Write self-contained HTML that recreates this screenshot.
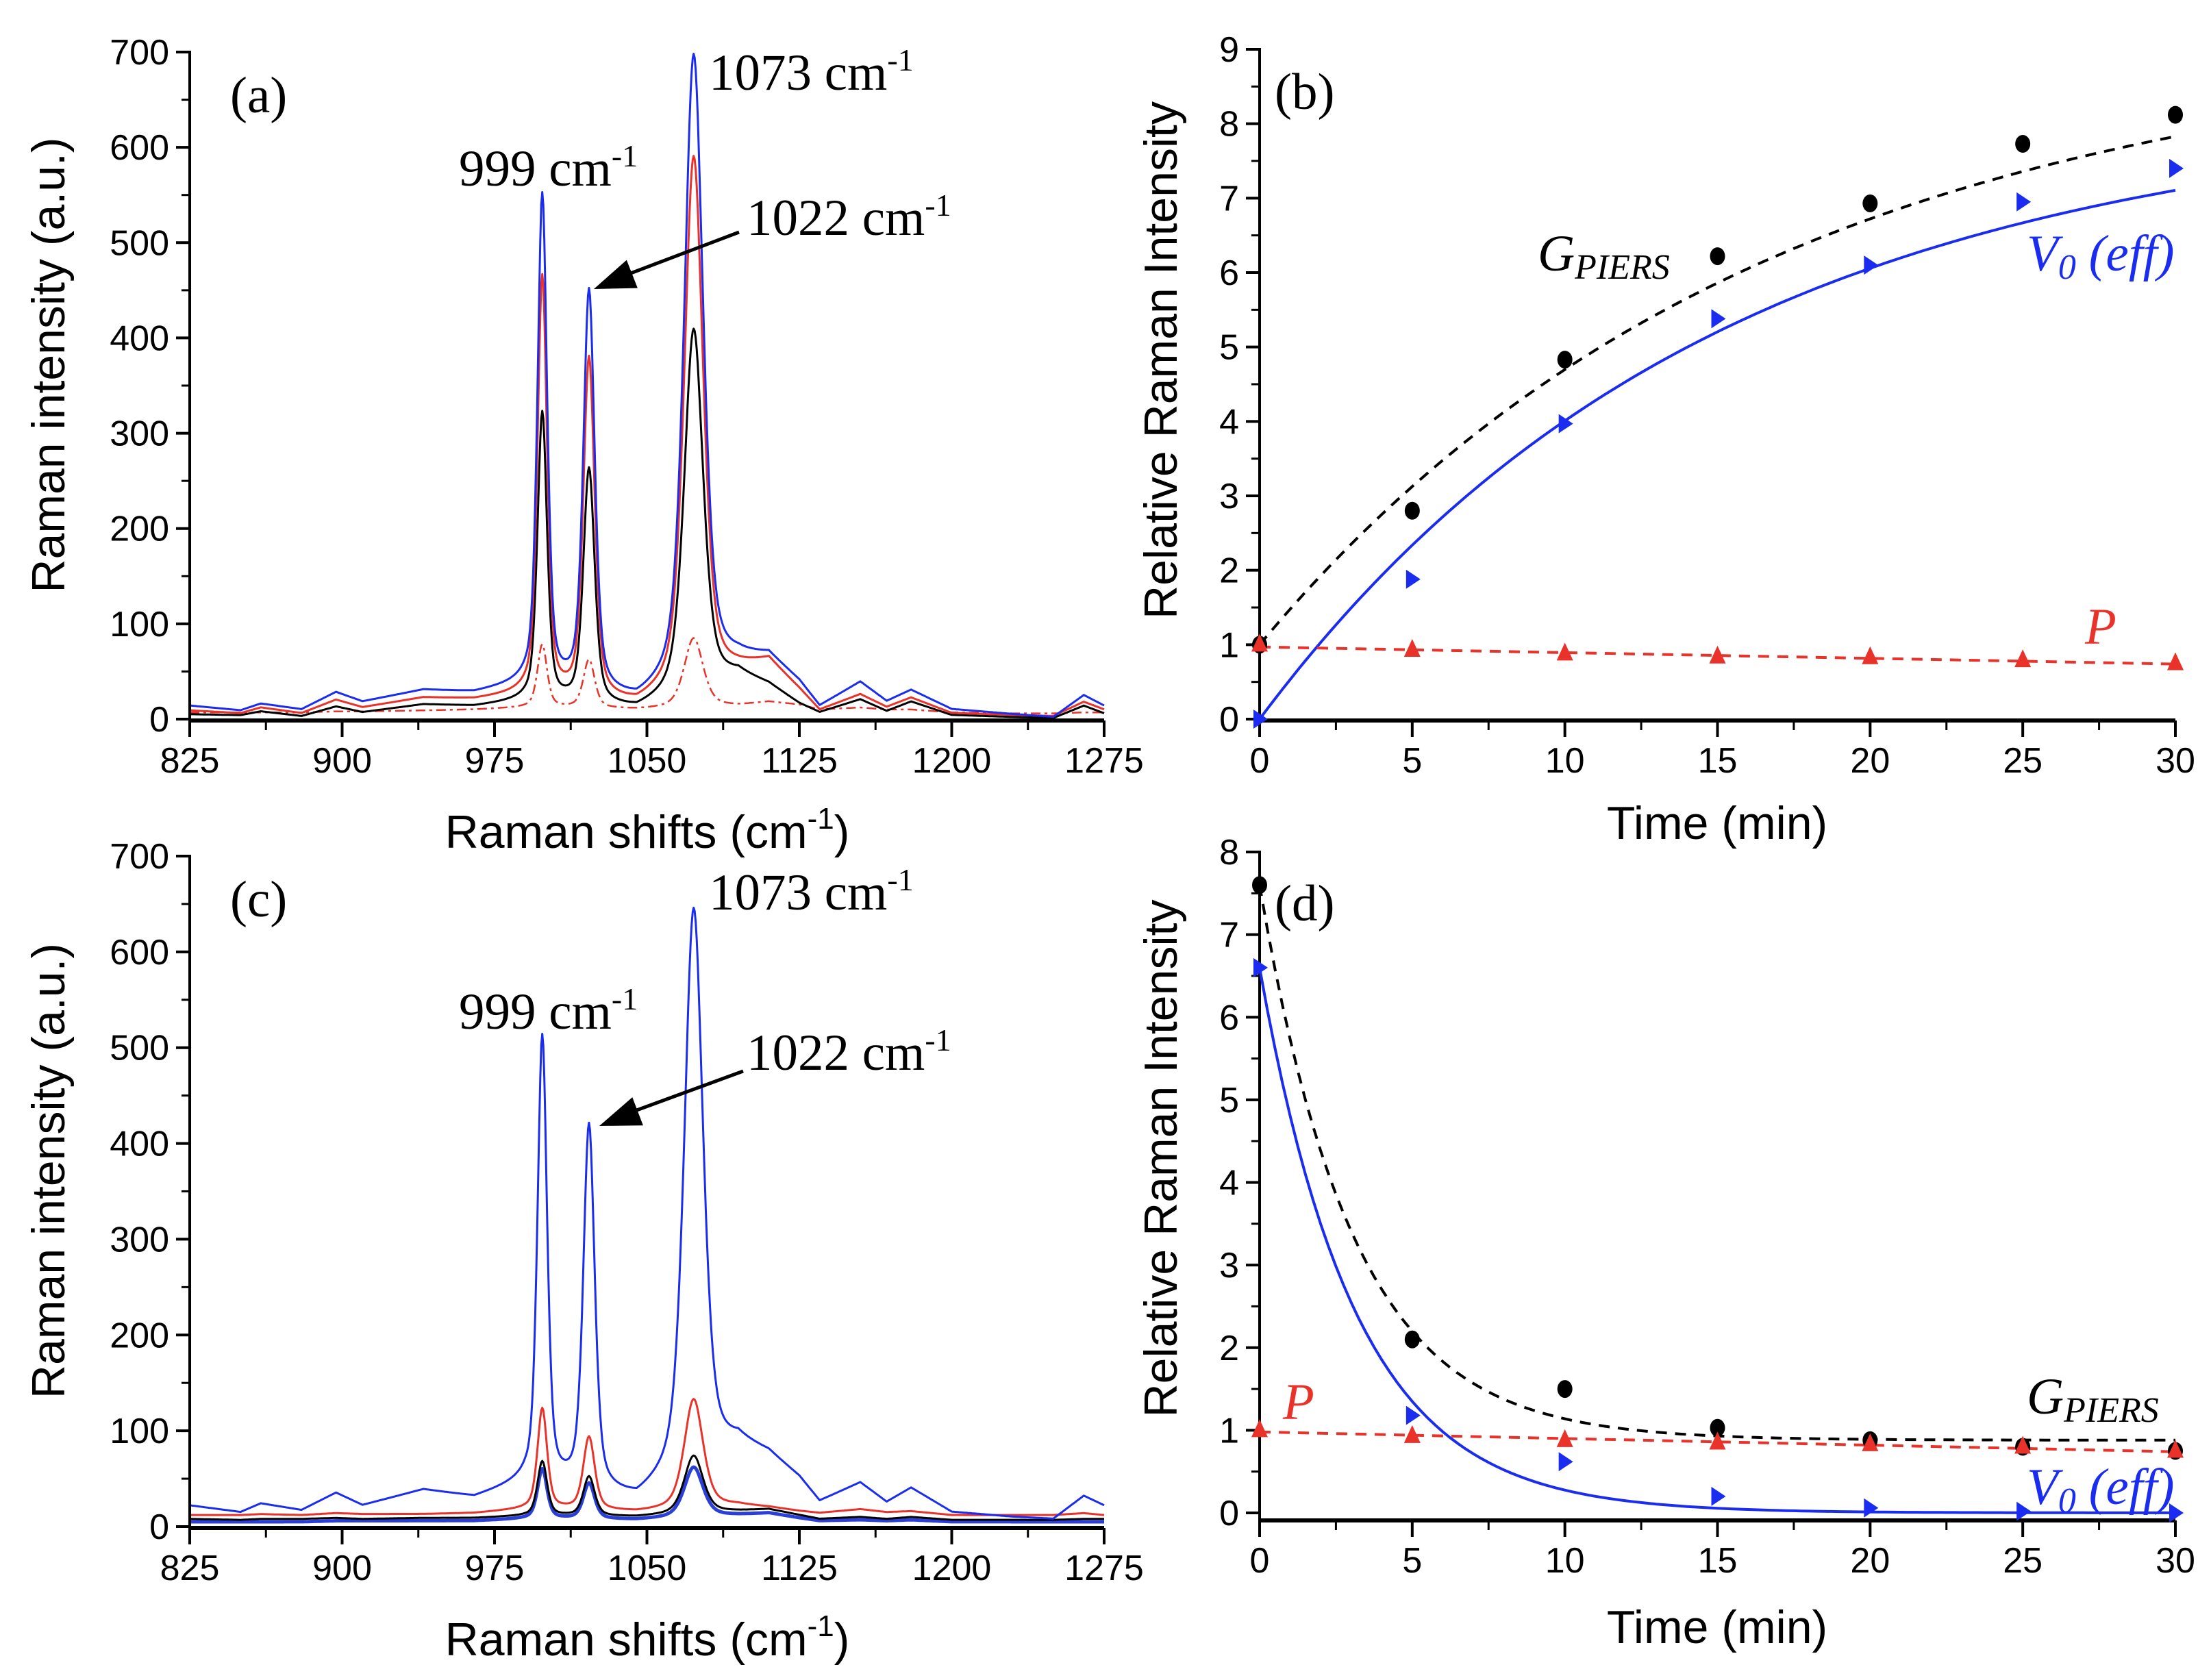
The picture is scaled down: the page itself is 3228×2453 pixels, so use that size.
<!DOCTYPE html>
<html><head><meta charset="utf-8"><style>
html,body{margin:0;padding:0;background:#fff}
svg{display:block}
.tk{font-family:"Liberation Sans",sans-serif;font-size:52px;fill:#000}
.tt{font-family:"Liberation Sans",sans-serif;font-size:68px;fill:#000}
.an{font-family:"Liberation Serif",serif;font-size:75px}
</style></head><body>
<svg id="fig" width="3228" height="2453" viewBox="0 0 3228 2453" xmlns="http://www.w3.org/2000/svg">
<rect width="3228" height="2453" fill="#fff"/>
</svg>
<script>
// ---------- Spectra data ----------
const baseX = [825,850,860,880,897,910,940,965,990,1010,1045,1095,1110,1125,1135,1155,1168,1180,1200,1230,1250,1265,1275];
const peakPos = [998.5,1021.5,1073];
const peakHw = [2.8,3.3,5.5];
// panel a
const aBlueBase = [14,9,16,10,28,18,30,27,35,30,15,60,65,38,12,38,18,30,10,5,2,25,14];
const aBluePeaks = [547,445,697];
const aRedBase = [9,6,12,6,20,12,22,20,25,22,12,50,60,30,8,25,12,22,6,4,3,18,10];
const aRedPeaks = [462,375,590];
const aBlackBase = [5,4,8,3,13,7,15,13,18,16,8,45,35,15,6,20,8,18,4,2,1,14,6];
const aBlackPeaks = [320,260,409];
const aDashBase = [7,7,7,7,8,8,9,10,12,12,10,14,18,15,10,12,10,10,7,6,6,7,7];
const aDashPeaks = [78,62,85];
// panel c
const cBlueBase = [22,15,24,17,35,22,38,30,45,40,25,85,75,50,25,45,25,40,15,10,8,32,22];
const cBluePeaks = [509,415,645];
const cRedBase = [12,12,13,12,14,13,13,14,18,18,15,22,20,16,14,18,15,16,12,12,12,14,12];
const cRedPeaks = [123,93,133];
const cBlackBase = [8,7,8,8,9,8,9,9,11,11,10,16,18,12,8,10,8,10,7,7,7,8,8];
const cBlackPeaks = [68,52,74];
const cBlue2Base = [5,5,5,5,6,6,6,6,8,8,7,12,14,9,6,7,6,7,5,5,5,5,5];
const cBlue2Peaks = [60,45,62];
const specTicks = [825,900,975,1050,1125,1200,1275];
const specYTicks = [0,100,200,300,400,500,600,700];

// ---------- Kinetics data ----------
const times = [0,5,10,15,20,25,30];
const bG = [1.0,2.8,4.83,6.22,6.93,7.73,8.12];
const bV = [0.0,1.88,3.97,5.38,6.10,6.95,7.40];
const bP = [1.0,0.93,0.88,0.84,0.83,0.79,0.75];
const dG = [7.6,2.1,1.5,1.03,0.88,0.8,0.75];
const dV = [6.6,1.18,0.62,0.2,0.06,0.02,0.0];
const dP = [1.0,0.93,0.88,0.85,0.83,0.8,0.75];
// fit parameters: [offset, amplitude, tau]
const bGFit = [1.0,8.17,16.6];
const bVFit = [0.0,8.2,14.9];
const bPFit = [0.97,0.74];
const dGFit = [0.88,6.72,3.07];
const dVFit = [0.0,6.6,3.15];
const dPFit = [0.98,0.74];
const timeTicks = [0,5,10,15,20,25,30];

const NS="http://www.w3.org/2000/svg";
const svg=document.getElementById('fig');
function el(tag,attrs,parent){const e=document.createElementNS(NS,tag);for(const k in attrs)e.setAttribute(k,attrs[k]);(parent||svg).appendChild(e);return e;}
function interp(xs,ys,x){if(x<=xs[0])return ys[0];for(let i=1;i<xs.length;i++){if(x<=xs[i]){const t=(x-xs[i-1])/(xs[i]-xs[i-1]);return ys[i-1]+t*(ys[i]-ys[i-1]);}}return ys[ys.length-1];}
function pv(x,c,w){const d=(x-c)/w;return 0.5/(1+d*d)+0.5*Math.exp(-0.693*d*d);}
function spectrum(base,peaks,x){let y=interp(baseX,base,x);for(let i=0;i<3;i++){const amp=peaks[i]-interp(baseX,base,peakPos[i]);y+=amp*pv(x,peakPos[i],peakHw[i]);}return y;}

function makeAxis(g,sx,sy,xr,yr,xticks,yticks,axisY){
  const X0=sx(xr[0]),X1=sx(xr[1]),Y0=axisY,Y1=sy(yr[1]);
  const ax=el('line',{x1:X0,y1:Y0,x2:X1,y2:Y0,stroke:'#000','stroke-width':6},g);
  
  const ay=el('line',{x1:X0,y1:Y0+2,x2:X0,y2:Y1-2,stroke:'#000','stroke-width':4},g);
  
  xticks.forEach(v=>{el('line',{x1:sx(v),y1:Y0,x2:sx(v),y2:Y0+24,stroke:'#000','stroke-width':4},g);
    const t=el('text',{x:sx(v),y:Y0+76,'text-anchor':'middle',class:'tk'},g);t.textContent=v;
    });
  for(let i=0;i<xticks.length-1;i++){const m=(xticks[i]+xticks[i+1])/2;el('line',{x1:sx(m),y1:Y0,x2:sx(m),y2:Y0+14,stroke:'#000','stroke-width':3},g);}
  yticks.forEach(v=>{el('line',{x1:X0,y1:sy(v),x2:X0-20,y2:sy(v),stroke:'#000','stroke-width':4},g);
    const t=el('text',{x:X0-30,y:sy(v)+18,'text-anchor':'end',class:'tk'},g);t.textContent=v;
    });
  for(let i=0;i<yticks.length-1;i++){const m=(yticks[i]+yticks[i+1])/2;el('line',{x1:X0,y1:sy(m),x2:X0-12,y2:sy(m),stroke:'#000','stroke-width':3},g);}
}
function txt(g,x,y,cls,s,name,extra){const t=el('text',Object.assign({x:x,y:y,class:cls},extra||{}),g);t.innerHTML=s;return t;}

function specPanel(name,yTop,yBot,series,lbl,ann){
  const g=el('g',{});
  const sx=v=>277+(v-825)/450*(1612-277);
  const sy=v=>yBot-(v/700)*(yBot-yTop);
  series.forEach(s=>{let d='';for(let x=825;x<=1275;x+=0.5){d+=(d?'L':'M')+sx(x).toFixed(1)+','+sy(spectrum(s.base,s.peaks,x)).toFixed(1);}
    const p=el('path',{d:d,fill:'none',stroke:s.color,'stroke-width':s.w||3,'stroke-dasharray':s.dash||'none','stroke-linejoin':'round'},g);
    });
  makeAxis(g,sx,sy,[825,1275],[0,700],specTicks,specYTicks,yBot+2);
  txt(g,0,0,'tt','Raman intensity (a.u.)','y-axis-title',{transform:`translate(94,${(yTop+yBot)/2-30}) rotate(-90)`,'text-anchor':'middle'});
  txt(g,945,yBot+188,'tt','Raman shifts (cm<tspan dy="-28" font-size="44">-1</tspan><tspan dy="28">)</tspan>','x-axis-title',{'text-anchor':'middle'});
  txt(g,336,yTop+88,'an',lbl,'panel-label',{style:'fill:#000'});
  txt(g,670,ann[0],'an','999 cm<tspan dy="-28" font-size="46">-1</tspan>','peak-label-999',{style:'fill:#000'});
  txt(g,1035,ann[1],'an','1073 cm<tspan dy="-28" font-size="46">-1</tspan>','peak-label-1073',{style:'fill:#000'});
  txt(g,1090,ann[2],'an','1022 cm<tspan dy="-28" font-size="46">-1</tspan>','peak-label-1022',{style:'fill:#000'});
  const a=el('line',{x1:ann[3],y1:ann[4],x2:ann[5]+30,y2:ann[6]-14,stroke:'#000','stroke-width':5},g);
  
  const dx=ann[3]-ann[5],dy=ann[4]-ann[6],L=Math.hypot(dx,dy),ux=dx/L,uy=dy/L;
  const hx=ann[5]+ux*60,hy=ann[6]+uy*60;
  el('polygon',{points:`${ann[5]},${ann[6]} ${hx-uy*22},${hy+ux*22} ${hx+uy*22},${hy-ux*22}`,fill:'#000'},g);
}
specPanel('panel-a',76,1050,[
 {name:'spectrum-dashdot',base:aDashBase,peaks:aDashPeaks,color:'#e8322a',dash:'14,6,4,6',w:2.5},
 {name:'spectrum-black',base:aBlackBase,peaks:aBlackPeaks,color:'#000'},
 {name:'spectrum-red',base:aRedBase,peaks:aRedPeaks,color:'#e8322a'},
 {name:'spectrum-blue',base:aBlueBase,peaks:aBluePeaks,color:'#1a2cf0'}],'(a)',[271,131,343,1079,339,867,422]);
specPanel('panel-c',1250,2229,[
 {name:'spectrum-blue-low',base:cBlue2Base,peaks:cBlue2Peaks,color:'#2a3fd8',w:5},
 {name:'spectrum-black',base:cBlackBase,peaks:cBlackPeaks,color:'#000'},
 {name:'spectrum-red',base:cRedBase,peaks:cRedPeaks,color:'#e8322a'},
 {name:'spectrum-blue',base:cBlueBase,peaks:cBluePeaks,color:'#1a2cf0'}],'(c)',[1502,1328,1562,1085,1564,875,1644]);

function kinPanel(name,yTop,yBot,yMax,G,V,P,gF,vF,pF,grow,lbl,labels){
  const g=el('g',{});
  const sx=v=>1839+(v/30)*(3176-1839);
  const sy=v=>yBot-(v/yMax)*(yBot-yTop);
  const yt=[];for(let i=0;i<=yMax;i++)yt.push(i);
  makeAxis(g,sx,sy,[0,30],[0,yMax],timeTicks,yt,yBot+(grow?2:11));
  const fitFn=(f,t)=>grow?f[0]+f[1]*(1-Math.exp(-t/f[2])):f[0]+f[1]*Math.exp(-t/f[2]);
  let dg='',dv='';for(let t=0;t<=30.001;t+=0.25){dg+=(dg?'L':'M')+sx(t).toFixed(1)+','+sy(fitFn(gF,t)).toFixed(1);dv+=(dv?'L':'M')+sx(t).toFixed(1)+','+sy(fitFn(vF,t)).toFixed(1);}
  let p=el('path',{d:dg,fill:'none',stroke:'#000','stroke-width':4,'stroke-dasharray':'16,12'},g);
  p=el('path',{d:dv,fill:'none',stroke:'#1a2cf0','stroke-width':4},g);
  p=el('line',{x1:sx(0),y1:sy(pF[0]),x2:sx(30),y2:sy(pF[1]),stroke:'#e8322a','stroke-width':4,'stroke-dasharray':'16,12'},g);
  times.forEach((t,i)=>{
    const c=el('ellipse',{cx:sx(t),cy:sy(G[i]),rx:11,ry:13,fill:'#000'},g);
    const x=sx(t),y=sy(V[i]);
    const v=el('polygon',{points:`${x-9},${y-14} ${x+12},${y} ${x-9},${y+14}`,fill:'#1a2cf0'},g);
    const y2=sy(P[i]);
    const r=el('polygon',{points:`${x},${y2-16} ${x+12},${y2+10} ${x-12},${y2+10}`,fill:'#e8322a'},g);
  });
  txt(g,0,0,'tt','Relative Raman Intensity','y-axis-title',{transform:`translate(1718,${(yTop+yBot)/2-35}) rotate(-90)`,'text-anchor':'middle'});
  txt(g,2507,labels.xt,'tt','Time (min)','x-axis-title',{'text-anchor':'middle'});
  txt(g,1861,labels.lb,'an',lbl,'panel-label',{style:'fill:#000'});
  txt(g,labels.g[0],labels.g[1],'an','<tspan font-style="italic">G</tspan><tspan font-style="italic" font-size="52" dy="12">PIERS</tspan>','gpiers-label',{style:'fill:#000'});
  txt(g,labels.v[0],labels.v[1],'an','<tspan font-style="italic">V</tspan><tspan font-style="italic" font-size="52" dy="12">0</tspan><tspan font-style="italic" dy="-12"> (eff)</tspan>','v0-label',{style:'fill:#1a2cf0'});
  txt(g,labels.p[0],labels.p[1],'an','<tspan font-style="italic">P</tspan>','p-label',{style:'fill:#e8322a'});
}
kinPanel('panel-b',72,1050,9,bG,bV,bP,bGFit,bVFit,bPFit,true,'(b)',{xt:1225,lb:159,g:[2245,395],v:[2959,395],p:[3044,940]});
kinPanel('panel-d',1244,2209,8,dG,dV,dP,dGFit,dVFit,dPFit,false,'(d)',{xt:2399,lb:1344,g:[2959,2064],v:[2959,2196],p:[1873,2072]});
</script>
</body></html>
